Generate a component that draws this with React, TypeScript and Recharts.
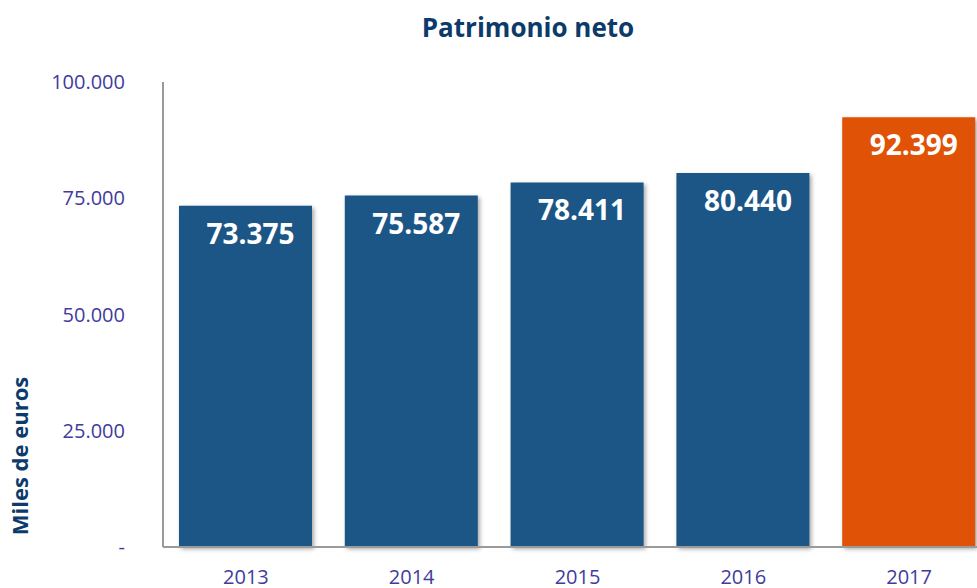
import { BarChart, Bar, XAxis, YAxis, Cell, LabelList } from 'recharts';

const years = ['2013', '2014', '2015', '2016', '2017'];
const patrimonio = [73375, 75587, 78411, 80440, 92399];
const yTicks = [0, 25000, 50000, 75000, 100000];
const highlightYear = '2017';

const data = years.map((year, i) => ({ year, value: patrimonio[i] }));

const BLUE = '#1b5686';
const ORANGE = '#e05206';
const TICK_COLOR = '#3f3c9e';
const NAVY = '#0c3a6b';
const FONT = '"Open Sans", "Noto Sans", sans-serif';

const fmt = (v: number) => (v === 0 ? '-' : String(v).replace(/\B(?=(\d{3})+(?!\d))/g, '.'));

function ValueLabel(props: any) {
  const { x, y, width, value } = props;
  return (
    <text
      x={x + width / 2 + 5}
      y={y + 27}
      fill="#ffffff"
      fontFamily={FONT}
      fontWeight={700}
      fontSize={28}
      textAnchor="middle"
      dominantBaseline="central"
    >
      {fmt(value)}
    </text>
  );
}

export default function App() {
  return (
    <div
      style={{
        position: 'fixed',
        left: 0,
        top: 0,
        width: 977,
        height: 588,
        overflow: 'hidden',
        background: '#ffffff',
        fontFamily: FONT,
      }}
    >
      <div
        style={{
          position: 'absolute',
          left: 0,
          width: 1056,
          top: 9,
          textAlign: 'center',
          fontSize: 26,
          fontWeight: 700,
          color: NAVY,
          lineHeight: '36px',
        }}
      >
        Patrimonio neto
      </div>
      <div
        style={{
          position: 'absolute',
          left: 19,
          top: 456,
          transform: 'translate(-50%, -50%) rotate(-90deg)',
          whiteSpace: 'nowrap',
          fontSize: 22,
          fontWeight: 700,
          color: NAVY,
        }}
      >
        Miles de euros
      </div>
      <BarChart
        width={992}
        height={588}
        data={data}
        margin={{ top: 82, right: 0, left: 0, bottom: 0 }}
        style={{ position: 'absolute', left: 0, top: 0 }}
      >
        <XAxis
          dataKey="year"
          height={41}
          tickLine={false}
          tickSize={0}
          tickMargin={23}
          axisLine={{ stroke: '#9a9a9a', strokeWidth: 2 }}
          tick={{ fill: TICK_COLOR, fontSize: 20, fontFamily: FONT }}
        />
        <YAxis
          width={163}
          domain={[0, 100000]}
          ticks={yTicks}
          tickFormatter={fmt}
          tickLine={false}
          tickSize={0}
          tickMargin={38}
          axisLine={{ stroke: '#9a9a9a', strokeWidth: 2 }}
          tick={{ fill: TICK_COLOR, fontSize: 20, fontFamily: FONT }}
        />
        <Bar dataKey="value" barSize={133} isAnimationActive={false}>
          {data.map((d) => (
            <Cell
              key={d.year}
              fill={d.year === highlightYear ? ORANGE : BLUE}
              style={{ filter: 'drop-shadow(2px 2px 2px rgba(0,0,0,0.35))' }}
            />
          ))}
          <LabelList dataKey="value" content={ValueLabel} />
        </Bar>
      </BarChart>
    </div>
  );
}
